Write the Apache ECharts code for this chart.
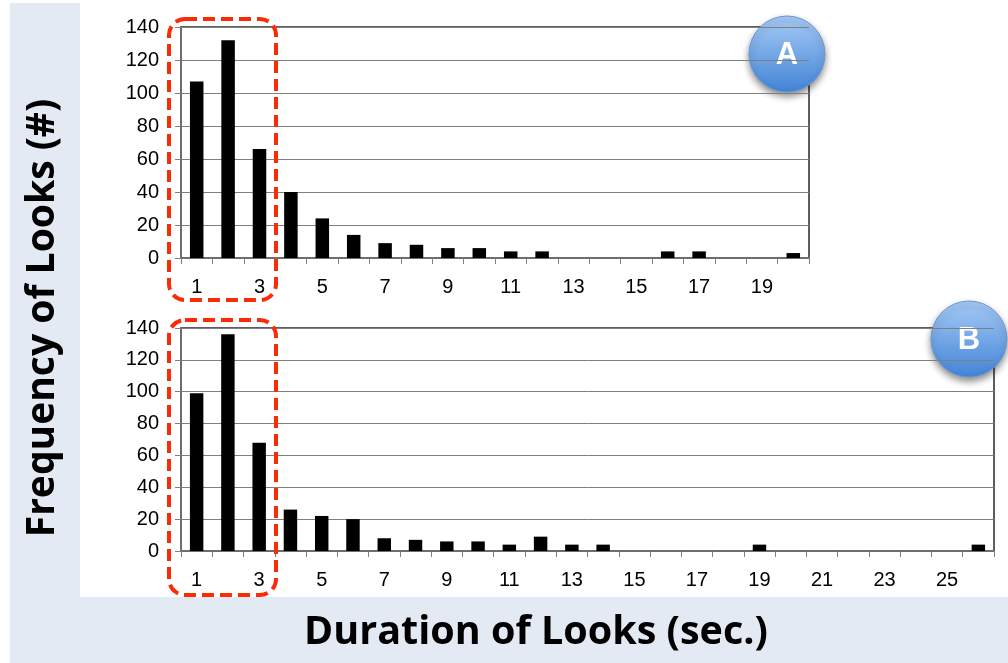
<!DOCTYPE html>
<html>
<head>
<meta charset="utf-8">
<script src="https://cdn.jsdelivr.net/npm/echarts@6/dist/echarts.min.js"></script>
<style>
html,body{margin:0;padding:0;background:#fff;}
#chart{width:1008px;height:663px;}
</style>
</head>
<body>
<div id="chart"></div>
<script>
// ---- data ----
var categoriesA = ['1','2','3','4','5','6','7','8','9','10','11','12','13','14','15','16','17','18','19','20'];
var looksA = [107,132,66,40,24,14,9,8,6,6,4,4,0,0,0,4,4,0,0,3];
var categoriesB = ['1','2','3','4','5','6','7','8','9','10','11','12','13','14','15','16','17','18','19','20','21','22','23','24','25','26'];
var looksB = [99,136,68,26,22,20,8,7,6,6,4,9,4,4,0,0,0,0,4,0,0,0,0,0,0,4];
var yMin = 0, yMax = 140, yStep = 20;
var panelLabels = ['A','B'];
var yTitle = 'Frequency of Looks (#)';
var xTitle = 'Duration of Looks (sec.)';

var chart = echarts.init(document.getElementById('chart'), null, {renderer:'canvas'});

var labelFont = {fontFamily:'Liberation Sans, Arial, sans-serif', fontSize:20, color:'#000'};

function xAxisCfg(idx, cats){
  return {
    type:'category', gridIndex:idx, data:cats, boundaryGap:true,
    axisLine:{show:true, lineStyle:{color:'#6e6e6e', width:2}},
    axisTick:{show:true, interval:0, alignWithLabel:false, length:6, lineStyle:{color:'#808080', width:1}},
    axisLabel:Object.assign({interval:1, margin:19}, labelFont),
    splitLine:{show:false}
  };
}
function yAxisCfg(idx){
  return {
    type:'value', gridIndex:idx, min:yMin, max:yMax, interval:yStep,
    axisLine:{show:true, lineStyle:{color:'#6e6e6e', width:2}},
    axisTick:{show:true, length:6, lineStyle:{color:'#808080', width:1}},
    axisLabel:Object.assign({margin:22}, labelFont),
    splitLine:{show:true, lineStyle:{color:'#7f7f7f', width:1}}
  };
}

var badge = function(cx, cy, letter){
  return {
    type:'group', z:100,
    children:[
      {type:'circle', shape:{cx:cx, cy:cy, r:38},
       style:{
         fill:new echarts.graphic.LinearGradient(0,0,0,1,[{offset:0,color:'#A6CBF6'},{offset:1,color:'#4284D6'}]),
         stroke:'#6598D4', lineWidth:1,
         shadowBlur:7, shadowOffsetY:4, shadowColor:'rgba(0,0,0,0.45)'
       }},
      {type:'text', x:cx, y:cy+1,
       style:{text:letter, fill:'#fff', font:'bold 31px "Liberation Sans", Arial, sans-serif', textAlign:'center', textVerticalAlign:'middle'}}
    ]
  };
};

var option = {
  backgroundColor:'#ffffff',
  animation:false,
  grid:[
    {left:181, top:27, width:628, height:231, show:true, borderColor:'#5e5e5e', borderWidth:2, backgroundColor:'#fff', containLabel:false},
    {left:181, top:328, width:813, height:223, show:true, borderColor:'#5e5e5e', borderWidth:2, backgroundColor:'#fff', containLabel:false}
  ],
  xAxis:[xAxisCfg(0, categoriesA), xAxisCfg(1, categoriesB)],
  yAxis:[yAxisCfg(0), yAxisCfg(1)],
  series:[
    {type:'bar', xAxisIndex:0, yAxisIndex:0, data:looksA, barWidth:'43%', itemStyle:{color:'#000'}, z:3},
    {type:'bar', xAxisIndex:1, yAxisIndex:1, data:looksB, barWidth:'43%', itemStyle:{color:'#000'}, z:3}
  ],
  graphic:[
    {type:'rect', z:-10, shape:{x:10, y:3, width:70, height:660}, style:{fill:'#E3EAF4'}},
    {type:'rect', z:-10, shape:{x:10, y:597, width:998, height:66}, style:{fill:'#E3EAF4'}},
    {type:'text', z:50, x:43, y:318, rotation:Math.PI/2,
     style:{text:yTitle, fill:'#000', font:'bold 39px "Open Sans", Lato, sans-serif', textAlign:'center', textVerticalAlign:'middle'}},
    {type:'text', z:50, x:536, y:633,
     style:{text:xTitle, fill:'#000', font:'bold 39.5px "Open Sans", Lato, sans-serif', textAlign:'center', textVerticalAlign:'middle'}},
    {type:'rect', z:90, shape:{x:169, y:19, width:107, height:281, r:16},
     style:{fill:null, stroke:'#FB2A07', lineWidth:4, lineDash:[12,6]}},
    {type:'rect', z:90, shape:{x:169, y:320, width:107, height:275, r:16},
     style:{fill:null, stroke:'#FB2A07', lineWidth:4, lineDash:[12,6]}},
    badge(787, 54, panelLabels[0]),
    badge(969, 339, panelLabels[1])
  ]
};
chart.setOption(option);
</script>
</body>
</html>
